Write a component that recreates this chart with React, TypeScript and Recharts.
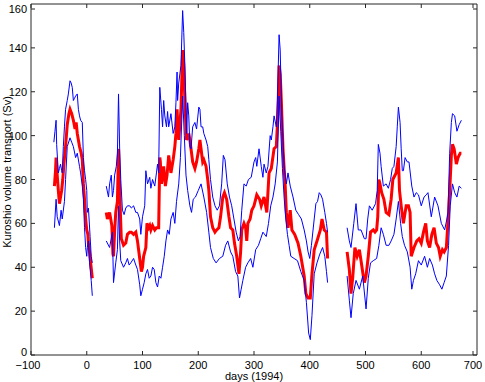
import { LineChart, Line, XAxis, YAxis } from "recharts";

// days since 1 Jan 1994; null marks the gaps in the record
const meanDays = [
  -58, -56, -55, -53, -51, -49, -47, -45, -43, -41, -38, -35, -32, -30, -27, -24, -21, -19, -17, -15, -13, -10, -8, -6, -4, -2, 0, 2, 3, 5, 7, 10,
  20,
  35, 37, 41, 45, 47, 48, 50, 52, 55, 57, 59, 61, 62, 66, 70, 73, 77, 80, 84, 88, 91, 93, 95, 98, 100, 102, 106, 108, 111, 113, 115, 118, 122, 125, 129,
  131, 132, 134, 138, 141, 144, 147, 151, 155, 158, 160, 162, 163, 165, 169, 172, 174, 176, 179, 183, 185, 187, 190, 194, 197, 201, 203, 205, 208, 210,
  214, 217, 219, 222, 226, 230, 233, 237, 240, 244, 247, 251, 255, 258, 262, 265, 269, 273, 276, 278, 282, 285, 287, 289, 293, 296, 300, 305, 310, 313,
  318, 323, 327, 331, 336, 340, 343, 345, 347, 349, 352, 356, 358, 361, 365, 368, 373, 379, 384, 390, 393, 397, 401, 404, 408, 413, 419, 422, 426, 430, 432,
  450,
  467, 471, 474, 477, 481, 485, 489, 492, 496, 498, 501, 505, 509, 514, 517, 520, 522, 524, 526, 529, 533, 537, 542, 546, 549, 555, 559, 561, 564, 568,
  573, 577, 580, 582, 587, 592, 596, 600, 604, 608, 611, 615, 619, 623, 627, 631, 634, 638, 641, 645, 649, 652, 654, 656, 659, 663, 666, 670, 672,
];
const meanVals = [
  77, 84, 90, 82, 75, 69, 72, 75, 80, 87, 95, 105, 110, 112, 110, 107, 103, 106, 101, 98, 95, 92, 89, 78, 71, 62, 57, 55, 51, 47, 42, 35,
  null,
  65, 62, 65, 59, 46, 45, 56, 65, 70, 94, 75, 60, 53, 50, 51, 55, 56, 56, 55, 56, 52, 48, 44, 38, 40, 45, 49, 60, 58, 59, 57, 59, 57, 58, 58,
  90, 88, 78, 86, 77, 82, 91, 83, 89, 95, 101, 112, 106, 98, 112, 139, 132, 116, 98, 101, 98, 94, 88, 85, 88, 94, 98, 94, 88, 89,
  86, 80, 75, 63, 58, 56, 57, 58, 63, 72, 74, 71, 63, 58, 57, 51, 45, 37, 47, 57, 60, 58, 52, 60, 62, 66, 68, 73, 71, 68,
  72, 65, 83, 85, 94, 95, 110, 132, 128, 116, 94, 77, 65, 58, 66, 57, 55, 51, 45, 36, 28, 26, 26, 37, 48, 52, 57, 62, 57, 56, 44,
  null,
  47, 39, 28, 35, 49, 45, 48, 43, 36, 33, 36, 45, 56, 57, 56, 57, 63, 80, 78, 74, 71, 65, 64, 71, 80, 83, 90, 75, 68, 60,
  68, 68, 65, 45, 49, 52, 53, 51, 56, 60, 52, 49, 55, 58, 51, 49, 45, 48, 47, 49, 65, 80, 91, 96, 94, 87, 90, 92, 92,
];

const upperDays = [
  -59, -57, -55, -54, -51, -49, -47, -45, -44, -42, -40, -38, -35, -33, -30, -28, -26, -24, -22, -20, -17, -15, -13, -11, -8, -6, -4, -2, 0, 1, 3, 6, 8, 10,
  20,
  35, 39, 41, 44, 46, 48, 50, 53, 55, 57, 59, 61, 64, 67, 70, 73, 77, 80, 84, 88, 91, 95, 97, 100, 104, 106, 109, 113, 115, 118, 122, 125, 127, 129,
  131, 134, 136, 138, 140, 143, 145, 147, 151, 155, 158, 160, 162, 163, 165, 169, 172, 174, 176, 178, 179, 181, 183, 185, 187, 190, 194, 197, 201, 203,
  205, 208, 210, 214, 217, 219, 222, 226, 230, 234, 238, 242, 245, 248, 252, 256, 260, 264, 268, 272, 275, 278, 282, 286, 290, 295, 300, 303, 305, 309,
  313, 316, 318, 322, 325, 329, 331, 334, 336, 340, 342, 345, 347, 349, 350, 352, 354, 358, 361, 365, 370, 375, 380, 385, 390, 394, 397, 400, 403, 408,
  411, 414, 417, 420, 423, 427, 430, 432,
  450,
  467, 471, 474, 479, 483, 487, 492, 498, 501, 504, 507, 512, 518, 521, 523, 526, 528, 532, 537, 541, 545, 548, 551, 555, 557, 559, 562, 564, 566, 568,
  571, 575, 578, 583, 587, 591, 595, 600, 605, 609, 612, 618, 624, 630, 636, 642, 646, 648, 651, 654, 656, 660, 664, 668, 672,
];
const upperVals = [
  97, 102, 107, 96, 83, 85, 87, 84, 83, 95, 104, 112, 116, 119, 125, 124, 122, 116, 117, 118, 119, 112, 109, 107, 106, 90, 84, 80, 75, 65, 67, 54, 45, 42,
  null,
  77, 72, 78, 82, 72, 75, 82, 86, 92, 119, 94, 80, 66, 64, 67, 68, 68, 67, 68, 65, 65, 62, 55, 63, 68, 84, 78, 81, 76, 80, 77, 83, 87, 83,
  122, 112, 104, 116, 109, 104, 111, 104, 110, 101, 104, 115, 129, 116, 124, 132, 157, 147, 132, 113, 101, 115, 109, 95, 94, 104, 106, 103, 113, 112,
  104, 104, 101, 98, 95, 89, 80, 72, 68, 66, 68, 78, 91, 89, 78, 72, 68, 62, 56, 52, 54, 66, 78, 77, 80, 81, 88, 90, 86, 94,
  86, 81, 87, 83, 86, 100, 98, 104, 109, 104, 116, 146, 139, 118, 109, 98, 86, 78, 83, 77, 72, 66, 64, 62, 57, 52, 47, 44, 50, 62,
  69, 70, 74, 73, 71, 65, 60, 56,
  null,
  58, 52, 49, 60, 69, 57, 57, 53, 53, 62, 68, 66, 69, 75, 96, 92, 86, 77, 78, 76, 80, 85, 86, 95, 104, 113, 106, 94, 84, 84,
  90, 88, 88, 77, 72, 74, 73, 68, 72, 73, 74, 63, 72, 68, 60, 57, 62, 65, 92, 106, 110, 109, 102, 105, 107,
];

const lowerDays = [
  -58, -55, -53, -49, -46, -44, -40, -38, -35, -30, -27, -24, -20, -17, -13, -11, -8, -6, -4, -2, 0, 1, 3, 5, 8, 10,
  20,
  35, 41, 46, 48, 52, 55, 57, 59, 61, 66, 70, 73, 76, 79, 84, 88, 91, 95, 97, 100, 103, 106, 109, 112, 115, 118, 121, 124, 127, 130,
  133, 136, 139, 142, 145, 148, 151, 155, 158, 161, 165, 168, 172, 175, 178, 181, 185, 188, 191, 195, 200, 205, 210, 215, 219, 222, 227, 232, 238, 244,
  249, 253, 258, 262, 267, 271, 274, 277, 280, 285, 289, 294, 298, 303, 308, 312, 316, 322, 326, 330, 334, 338, 342, 345, 348, 351, 354, 357, 360, 363,
  366, 372, 378, 384, 390, 394, 398, 401, 404, 408, 413, 418, 423, 427, 430, 432,
  450,
  467, 471, 474, 478, 483, 489, 495, 501, 505, 509, 514, 520, 524, 528, 532, 537, 542, 546, 551, 555, 559, 563, 566, 570, 575, 580, 583, 586, 590, 595,
  600, 606, 611, 615, 620, 624, 628, 633, 637, 641, 645, 649, 652, 656, 660, 664, 668, 672,
];
const lowerVals = [
  58, 71, 63, 59, 66, 62, 70, 80, 95, 99, 97, 95, 90, 92, 86, 83, 77, 71, 58, 49, 45, 49, 52, 42, 34, 27,
  null,
  52, 49, 56, 33, 42, 48, 68, 52, 43, 40, 42, 44, 41, 42, 44, 41, 39, 32, 27, 30, 33, 37, 39, 35, 36, 40, 39, 33, 31, 36,
  35, 40, 45, 52, 57, 55, 62, 65, 60, 70, 78, 90, 118, 100, 82, 75, 68, 65, 71, 72, 75, 78, 72, 65, 56, 49, 44, 42, 44, 45,
  50, 52, 47, 45, 38, 36, 26, 30, 34, 40, 42, 44, 40, 48, 50, 53, 56, 54, 60, 68, 72, 78, 88, 118, 102, 85, 72, 62, 55, 50,
  45, 44, 43, 38, 34, 24, 10, 7, 18, 37, 42, 46, 49, 45, 38, 33,
  null,
  36, 25, 17, 28, 34, 30, 36, 21, 35, 42, 43, 44, 50, 58, 55, 50, 50, 52, 55, 62, 70, 60, 54, 50, 47, 40, 30, 34, 37, 43,
  41, 45, 40, 44, 41, 37, 34, 32, 30, 33, 36, 50, 68, 78, 74, 72, 77, 76,
];

const xTicks = [-100, 0, 100, 200, 300, 400, 500, 600, 700];
const yTicks = [0, 20, 40, 60, 80, 100, 120, 140, 160];

const toRows = (days: number[], vals: (number | null)[]) =>
  days.map((d, i) => ({ day: d, v: vals[i] }));

const font = "'Liberation Sans', Arial, Helvetica, sans-serif";
const axisColor = "#262626";
const TICK = 4;

function BottomTick({ x, y, payload }: any) {
  const label = payload.value < 0 ? "\u2212" + Math.abs(payload.value) : String(payload.value);
  return (
    <g>
      <line x1={x} y1={y} x2={x} y2={y - TICK} stroke={axisColor} />
      <text x={x - (payload.value < 0 ? 3 : 0)} y={y + 14} textAnchor="middle" fontSize={11} fontFamily={font} fill="#000">
        {label}
      </text>
    </g>
  );
}

function LeftTick({ x, y, payload }: any) {
  // the bottom label sits a little higher so it clears the "-100" below it
  const dy = payload.value === 0 ? 1 : 4;
  return (
    <g>
      <line x1={x} y1={y} x2={x + TICK} y2={y} stroke={axisColor} />
      <text x={x - 4} y={y + dy} textAnchor="end" fontSize={11} fontFamily={font} fill="#000">
        {payload.value}
      </text>
    </g>
  );
}

function TopTick({ x, y }: any) {
  return <line x1={x} y1={y} x2={x} y2={y + TICK} stroke={axisColor} />;
}

function RightTick({ x, y }: any) {
  return <line x1={x} y1={y} x2={x - TICK} y2={y} stroke={axisColor} />;
}

export default function App() {
  const meanData = toRows(meanDays, meanVals);
  const upperData = toRows(upperDays, upperVals);
  const lowerData = toRows(lowerDays, lowerVals);

  return (
    <div style={{ position: "absolute", left: 0, top: 0, width: 485, height: 382, background: "#fff" }}>
      <LineChart width={485} height={382} margin={{ top: 3, right: 7, bottom: 26, left: 30 }}>
        <XAxis
          xAxisId="b"
          dataKey="day"
          type="number"
          domain={[-100, 700]}
          ticks={xTicks}
          allowDataOverflow
          height={1}
          tickSize={0}
          tickMargin={0}
          tickLine={false}
          axisLine={{ stroke: axisColor }}
          tick={<BottomTick />}
        />
        <XAxis
          xAxisId="t"
          orientation="top"
          dataKey="day"
          type="number"
          domain={[-100, 700]}
          ticks={xTicks}
          allowDataOverflow
          height={1}
          tickSize={0}
          tickMargin={0}
          tickLine={false}
          axisLine={{ stroke: axisColor }}
          tick={<TopTick />}
        />
        <YAxis
          yAxisId="l"
          type="number"
          domain={[0, 160]}
          ticks={yTicks}
          allowDataOverflow
          width={1}
          tickSize={0}
          tickMargin={0}
          tickLine={false}
          axisLine={{ stroke: axisColor }}
          tick={<LeftTick />}
        />
        <YAxis
          yAxisId="r"
          orientation="right"
          type="number"
          domain={[0, 160]}
          ticks={yTicks}
          allowDataOverflow
          width={1}
          tickSize={0}
          tickMargin={0}
          tickLine={false}
          axisLine={{ stroke: axisColor }}
          tick={<RightTick />}
        />
        <Line
          xAxisId="b"
          yAxisId="l"
          data={meanData}
          dataKey="v"
          type="linear"
          stroke="#ff0000"
          strokeWidth={3}
          dot={false}
          activeDot={false}
          connectNulls={false}
          isAnimationActive={false}
        />
        <Line
          xAxisId="b"
          yAxisId="l"
          data={upperData}
          dataKey="v"
          type="linear"
          stroke="#0000ff"
          strokeWidth={1}
          dot={false}
          activeDot={false}
          connectNulls={false}
          isAnimationActive={false}
        />
        <Line
          xAxisId="b"
          yAxisId="l"
          data={lowerData}
          dataKey="v"
          type="linear"
          stroke="#0000ff"
          strokeWidth={1}
          dot={false}
          activeDot={false}
          connectNulls={false}
          isAnimationActive={false}
        />
      </LineChart>
      <div
        style={{
          position: "absolute",
          left: 254,
          top: 371,
          transform: "translateX(-50%)",
          fontFamily: font,
          fontSize: 11,
          whiteSpace: "nowrap",
          lineHeight: "10px",
        }}
      >
        days (1994)
      </div>
      <div
        style={{
          position: "absolute",
          left: 7,
          top: 172,
          transform: "translate(-50%, -50%) rotate(-90deg)",
          fontFamily: font,
          fontSize: 11,
          whiteSpace: "nowrap",
          lineHeight: "11px",
        }}
      >
        Kuroshio volume transport (Sv)
      </div>
    </div>
  );
}
